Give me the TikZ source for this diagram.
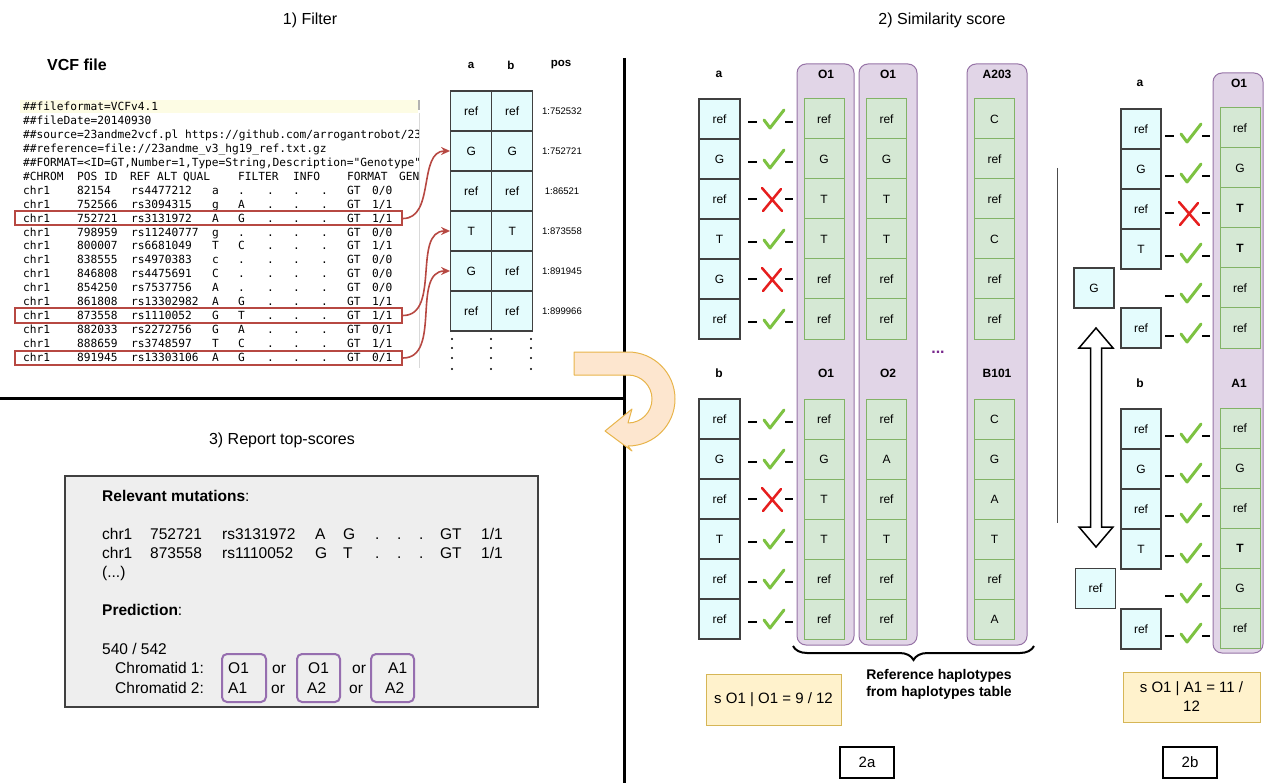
\documentclass[tikz,border=0pt]{standalone}
\usepackage{fontspec}
\setmainfont{Liberation Sans}
\setmonofont{DejaVu Sans Mono}
\usetikzlibrary{arrows.meta,decorations.pathreplacing}
\definecolor{cyanfill}{RGB}{228,252,253}
\definecolor{greenfill}{HTML}{D5E8D4}
\definecolor{greenline}{HTML}{82B366}
\definecolor{purplefill}{HTML}{E1D5E7}
\definecolor{purpleline}{HTML}{9673A6}
\definecolor{yellowfill}{HTML}{FFF2CC}
\definecolor{yellowline}{HTML}{D6B656}
\definecolor{redbox}{RGB}{183,72,66}
\definecolor{checkgreen}{RGB}{125,194,66}
\definecolor{crossred}{RGB}{230,30,30}
\definecolor{peach}{RGB}{253,230,207}
\definecolor{orangeline}{RGB}{232,180,74}
\definecolor{reportgray}{RGB}{238,238,238}
\definecolor{hlyellow}{RGB}{253,252,228}
\definecolor{predpurple}{RGB}{150,110,175}
\definecolor{dotpurple}{RGB}{120,40,140}
\newcommand\fsz[2]{\fontsize{#1}{#2}\selectfont}
\newcommand\vcf[7]{\makebox[54pt][l]{#1}\makebox[54pt][l]{#2}\makebox[81pt][l]{#3}\makebox[26pt][l]{#4}\makebox[29pt][l]{#5}\makebox[26pt][l]{.}\makebox[28pt][l]{.}\makebox[26pt][l]{.}\makebox[25pt][l]{#6}#7}
\newcommand\rrow[5]{\makebox[48pt][l]{chr1}\makebox[72pt][l]{#1}\makebox[93pt][l]{#2}\makebox[28pt][l]{#3}\makebox[32pt][l]{#4}\makebox[22pt][l]{.}\makebox[22pt][l]{.}\makebox[21pt][l]{.}\makebox[41pt][l]{GT}#5}
\tikzset{
 cyancell/.style={draw=black!75, fill=cyanfill, line width=1.2pt, minimum width=41pt, minimum height=40pt, inner sep=0, font=\fsz{12}{14}},
 greencell/.style={draw=greenline, fill=greenfill, line width=1pt, minimum width=40pt, minimum height=40pt, inner sep=0, font=\fsz{12}{14}},
 hapcol/.style={draw=purpleline, fill=purplefill, line width=1pt, rounded corners=9pt},
 lbl/.style={font=\bfseries\fsz{12}{14}, inner sep=0},
 titletxt/.style={font=\fsz{16}{19}, inner sep=0},
 mono/.style={font=\ttfamily\fsz{11.2}{13}, anchor=base west, inner sep=0, text=black},
 rtxt/.style={font=\fsz{15.5}{18}, anchor=base west, inner sep=0},
 redrect/.style={draw=redbox, line width=2pt, inner sep=0, minimum width=387pt, minimum height=14pt},
 redarrow/.style={draw=redbox, line width=1.6pt, -{Stealth[length=9pt,width=8pt]}},
 scorebox/.style={draw=yellowline, fill=yellowfill, line width=1pt, inner sep=0, align=center, font=\fsz{15}{19}},
 tagbox/.style={draw=black, line width=1.5pt, minimum width=54pt, minimum height=31pt, inner sep=0, font=\fsz{15}{18}},
 predbox/.style={draw=predpurple, line width=2pt, rounded corners=5pt},
 posl/.style={font=\fsz{9.5}{11}, inner sep=0},
 divider/.style={line width=3pt},
 chkmark/.pic={\draw[line width=2.5pt] (-22,0)--(-13,0) (15,0)--(23,0);
   \draw[checkgreen, line width=3pt, line cap=round, line join=round] (-6,-2)--(0,6)--(14,-12);},
 xmark/.pic={\draw[line width=2.5pt] (-22,0)--(-13,0) (15,0)--(23,0);
   \draw[crossred, line width=2.5pt, line cap=round] (-8,-11)--(12,12) (11,-10)--(-7,12);},
}
\begin{document}
\begin{tikzpicture}[x=1pt,y=-1pt]
\useasboundingbox (0,0) rectangle (1265,783);
% dividers
\draw[divider] (624,58) -- (624,783);
\draw[divider] (0,398) -- (624,398);
% titles
\node[titletxt] (t1) at (310,20) {1) Filter};
\node[titletxt] (t2) at (942,20) {2) Similarity score};
\node[titletxt] (t3) at (282,440) {3) Report top-scores};
% ---------- VCF file
\node[font=\bfseries\fsz{16}{19}, anchor=west, inner sep=0] (vcft) at (47,65) {VCF file};
\fill[hlyellow] (20,100) rectangle (418,113);
\draw[black!15, line width=0.8pt] (419,113) -- (419,368);
\fill[black!30] (418,100) rectangle (420,110);
\begin{scope}
\clip (15,95) rectangle (418,372);
\node[mono] (v0) at (23,111) {\#\#fileformat=VCFv4.1};
\node[mono] (v1) at (23,124.9) {\#\#fileDate=20140930};
\node[mono] (v2) at (23,138.8) {\#\#source=23andme2vcf.pl https://github.com/arrogantrobot/23};
\node[mono] (v3) at (23,152.7) {\#\#reference=file://23andme\_v3\_hg19\_ref.txt.gz};
\node[mono] (v4) at (23,166.6) {\#\#FORMAT=<ID=GT,Number=1,Type=String,Description="Genotype">};
\node[mono] (v5) at (23,180.5) {\makebox[54pt][l]{\#CHROM}\makebox[27pt][l]{POS}\makebox[26pt][l]{ID}\makebox[27pt][l]{REF}\makebox[26pt][l]{ALT}\makebox[55pt][l]{QUAL}\makebox[55pt][l]{FILTER}\makebox[54pt][l]{INFO}\makebox[52pt][l]{FORMAT}GEN};
\node[mono] (v6) at (23,194.4) {\vcf{chr1}{82154}{rs4477212}{a}{.}{GT}{0/0}};
\node[mono] (v7) at (23,208.3) {\vcf{chr1}{752566}{rs3094315}{g}{A}{GT}{1/1}};
\node[mono] (v8) at (23,222.2) {\vcf{chr1}{752721}{rs3131972}{A}{G}{GT}{1/1}};
\node[mono] (v9) at (23,236.1) {\vcf{chr1}{798959}{rs11240777}{g}{.}{GT}{0/0}};
\node[mono] (v10) at (23,250) {\vcf{chr1}{800007}{rs6681049}{T}{C}{GT}{1/1}};
\node[mono] (v11) at (23,263.9) {\vcf{chr1}{838555}{rs4970383}{c}{.}{GT}{0/0}};
\node[mono] (v12) at (23,277.8) {\vcf{chr1}{846808}{rs4475691}{C}{.}{GT}{0/0}};
\node[mono] (v13) at (23,291.7) {\vcf{chr1}{854250}{rs7537756}{A}{.}{GT}{0/0}};
\node[mono] (v14) at (23,305.6) {\vcf{chr1}{861808}{rs13302982}{A}{G}{GT}{1/1}};
\node[mono] (v15) at (23,319.5) {\vcf{chr1}{873558}{rs1110052}{G}{T}{GT}{1/1}};
\node[mono] (v16) at (23,333.4) {\vcf{chr1}{882033}{rs2272756}{G}{A}{GT}{0/1}};
\node[mono] (v17) at (23,347.3) {\vcf{chr1}{888659}{rs3748597}{T}{C}{GT}{1/1}};
\node[mono] (v18) at (23,361.2) {\vcf{chr1}{891945}{rs13303106}{A}{G}{GT}{0/1}};
\end{scope}
\node[redrect] (r1) at (208.5,218.5) {};
\node[redrect] (r2) at (208.5,315.5) {};
\node[redrect] (r3) at (208.5,358) {};
% a/b table
\node[lbl, font=\bfseries\fsz{11.5}{14}] (ha) at (471,65) {a};
\node[lbl, font=\bfseries\fsz{11.5}{14}] (hb) at (511,65) {b};
\node[lbl, font=\bfseries\fsz{11.5}{14}] (hp) at (561,65) {pos};
\foreach \v [count=\i] in {ref,G,ref,T,G,ref}
  \node[cyancell] (ta\i) at (471.2,71+40*\i) {\v};
\foreach \v [count=\i] in {ref,G,ref,T,ref,ref}
  \node[cyancell] (tb\i) at (512.2,71+40*\i) {\v};
\foreach \v [count=\i] in {1:752532,1:752721,1:86521,1:873558,1:891945,1:899966}
  \node[posl] (p\i) at (562,71+40*\i) {\v};
\foreach \x in {452,491,531}
  \foreach \y in {339,348,358,369}
    \fill (\x,\y) circle (1.1);
\draw[redarrow] (r1.east) to[out=0,in=180] (ta2.west);
\draw[redarrow] (r2.east) to[out=0,in=180] (ta4.west);
\draw[redarrow] (r3.east) to[out=0,in=180] (ta5.west);
% orange U-turn arrow
\draw[fill=peach, draw=orangeline, line width=1pt, line join=round]
  (574,352) -- (628,352) arc[start angle=-90, end angle=90, radius=47]
  -- (632,451) -- (605,431) -- (632,409) -- (628,423)
  arc[start angle=90, end angle=-90, radius=24] -- (574,375) -- cycle;
% ---------- Report
\node[draw=black!75, fill=reportgray, line width=2pt, minimum width=473pt, minimum height=231pt, inner sep=0] (report) at (301.5,591.5) {};
\node[rtxt] (rm) at (102,501) {\textbf{Relevant mutations}:};
\node[rtxt] (rr1) at (102,539) {\rrow{752721}{rs3131972}{A}{G}{1/1}};
\node[rtxt] (rr2) at (102,558) {\rrow{873558}{rs1110052}{G}{T}{1/1}};
\node[rtxt] (rr3) at (102,577) {(...)};
\node[rtxt] (pr) at (102,615) {\textbf{Prediction}:};
\node[rtxt] (sc) at (102,654) {540 / 542};
\node[rtxt] (c1) at (115,673) {Chromatid 1:};
\node[rtxt] (c2) at (115,693) {Chromatid 2:};
\node[rtxt] (o11) at (228,673) {O1};
\node[rtxt] (or11) at (272,673) {or};
\node[rtxt] (o12) at (308,673) {O1};
\node[rtxt] (or12) at (352,673) {or};
\node[rtxt] (o13) at (388,673) {A1};
\node[rtxt] (o21) at (228,693) {A1};
\node[rtxt] (or21) at (271,693) {or};
\node[rtxt] (o22) at (307,693) {A2};
\node[rtxt] (or22) at (349,693) {or};
\node[rtxt] (o23) at (385,693) {A2};
\draw[predbox] (222,654) rectangle (266,702);
\draw[predbox] (297,654) rectangle (340,702);
\draw[predbox] (371,654) rectangle (414,702);
% ---------- 2a
\draw[hapcol] (797,64) rectangle (854,645);
\draw[hapcol] (859,64) rectangle (917,645);
\draw[hapcol] (967,64) rectangle (1027,645);
\node[lbl] (la) at (719,74) {a};
\node[lbl] (lb) at (719,373) {b};
\node[lbl] (h1u) at (826,74) {O1};
\node[lbl] (h2u) at (888,74) {O1};
\node[lbl] (h3u) at (997,74) {A203};
\node[lbl] (h1l) at (826,373) {O1};
\node[lbl] (h2l) at (888,373) {O2};
\node[lbl] (h3l) at (997,373) {B101};
\node[font=\bfseries\fsz{16}{18}, text=dotpurple, inner sep=0] (dots) at (938,352) {...};
\foreach \v [count=\i] in {ref,G,ref,T,G,ref}
  \node[cyancell] (au\i) at (719.5,79+40*\i) {\v};
\foreach \v [count=\i] in {ref,G,ref,T,ref,ref}
  \node[cyancell] (al\i) at (719.5,379+40*\i) {\v};
\foreach \v [count=\i] in {ref,G,T,T,ref,ref}
  \node[greencell] (g1u\i) at (824,79+40*\i) {\v};
\foreach \v [count=\i] in {ref,G,T,T,ref,ref}
  \node[greencell] (g2u\i) at (886.5,79+40*\i) {\v};
\foreach \v [count=\i] in {C,ref,ref,C,ref,ref}
  \node[greencell] (g3u\i) at (994.5,79+40*\i) {\v};
\foreach \v [count=\i] in {ref,G,T,T,ref,ref}
  \node[greencell] (g1l\i) at (824,379+40*\i) {\v};
\foreach \v [count=\i] in {ref,A,ref,T,ref,ref}
  \node[greencell] (g2l\i) at (886.5,379+40*\i) {\v};
\foreach \v [count=\i] in {C,G,A,T,ref,A}
  \node[greencell] (g3l\i) at (994.5,379+40*\i) {\v};
\foreach \r in {1,2,4,6} \pic at (770,82+40*\r) {chkmark};
\foreach \r in {3,5} \pic at (770,79+40*\r) {xmark};
\foreach \r in {1,2,4,5,6} \pic at (770,382+40*\r) {chkmark};
\foreach \r in {3} \pic at (770,379+40*\r) {xmark};
\draw[decorate, decoration={brace, amplitude=14pt}, line width=2pt] (1034,646) -- (793,646);
\node[font=\bfseries\fsz{14}{17}, align=center, inner sep=0] (refh) at (939,684.5) {Reference haplotypes\\from haplotypes table};
\node[scorebox, minimum width=135pt, minimum height=51pt] (s2a) at (773.5,699.5) {s O1 | O1 = 9 / 12};
\node[tagbox] (tag2a) at (867,762.5) {2a};
% ---------- 2b
\draw[black!70, line width=1pt] (1057,168) -- (1057,523);
\draw[hapcol] (1213,73) rectangle (1263,653);
\node[lbl] (lba) at (1140,83) {a};
\node[lbl] (lbb) at (1140,383) {b};
\node[lbl] (hbo) at (1239,83) {O1};
\node[lbl] (hba) at (1239,383) {A1};
\foreach \v [count=\i] in {ref,G,ref,T}
  \node[cyancell, minimum width=40pt] (bu\i) at (1141,89+40*\i) {\v};
\node[cyancell, minimum width=40pt] (bug) at (1094,288) {G};
\node[cyancell, minimum width=40pt] (bu6) at (1141,328) {ref};
\foreach \v [count=\i] in {ref,G,ref,T}
  \node[cyancell, minimum width=40pt] (bl\i) at (1141,389+40*\i) {\v};
\node[cyancell, minimum width=40pt] (blr) at (1095.5,588.5) {ref};
\node[cyancell, minimum width=40pt] (bl6) at (1141,629) {ref};
\foreach \v [count=\i] in {ref,G,\textbf{T},\textbf{T},ref,ref}
  \node[greencell] (gbu\i) at (1240,88+40*\i) {\v};
\foreach \v [count=\i] in {ref,G,ref,\textbf{T},G,ref}
  \node[greencell] (gbl\i) at (1240,388+40*\i) {\v};
\foreach \r in {1,2,4,5,6} \pic at (1187,96+40*\r) {chkmark};
\pic at (1187,213) {xmark};
\foreach \r in {1,2,3,4,5,6} \pic at (1187,396+40*\r) {chkmark};
\draw[fill=white, line width=1.5pt, line join=miter]
  (1096,328) -- (1113,348) -- (1101.5,348) -- (1101.5,527) -- (1113,527) -- (1096,547)
  -- (1079,527) -- (1090.5,527) -- (1090.5,348) -- (1079,348) -- cycle;
\node[scorebox, minimum width=137pt, minimum height=50pt] (s2b) at (1191.5,697) {s O1 | A1 = 11 /\\12};
\node[tagbox] (tag2b) at (1190,762.5) {2b};
\end{tikzpicture}
\end{document}
